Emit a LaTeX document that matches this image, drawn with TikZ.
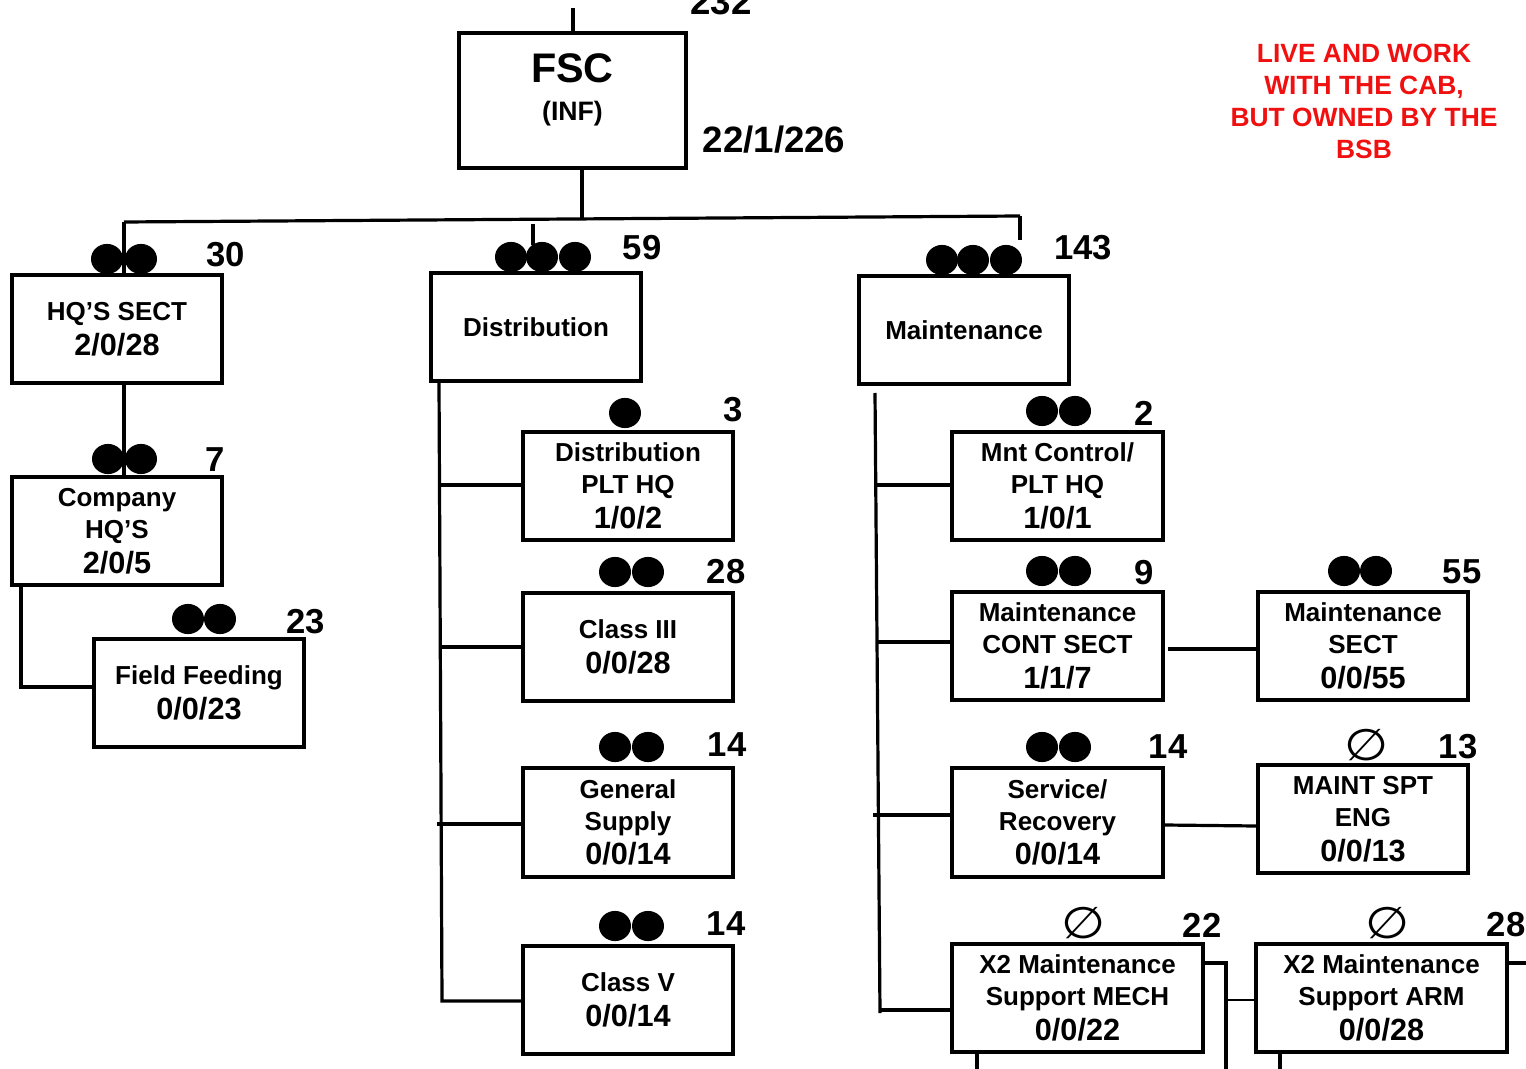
\documentclass[tikz,border=0pt]{standalone}
\usepackage{fontspec}
\setmainfont{Liberation Sans}
\newfontfamily\symfont{DejaVu Sans}
\usetikzlibrary{calc}
\definecolor{redtxt}{RGB}{240,16,16}
\newcommand\wf{\bfseries\fontsize{19.5}{24}\selectfont}
\newcommand\nf{\bfseries\fontsize{23}{26}\selectfont}
\newcommand\lf{\bfseries\fontsize{26}{30}\selectfont}
\begin{document}
\begin{tikzpicture}[x=0.75pt,y=-0.75pt,
  box/.style={draw, line width=2.6pt, rectangle, inner sep=0pt, align=center, font=\wf},
  conn/.style={line width=2.4pt},
  thin/.style={line width=1.2pt},
  lab/.style={inner sep=0pt, font=\lf},
  dot/.style={fill=black},
  nulls/.style={inner sep=0pt, xscale=1.15, font=\symfont\fontsize{33}{34}\selectfont},
]
\useasboundingbox (0,0) rectangle (1526,1069);
\newcommand\bx[6]{\node[box, minimum width=#4*0.75pt, minimum height=#5*0.75pt] (#1) at (#2,#3) {#6};}
\newcommand\dt[2]{\fill[dot] (#1,#2) ellipse [x radius=12pt, y radius=11.3pt];}

% boxes
\bx{fsc}{572.5}{100.5}{227}{135}{{\fontsize{31}{34}\selectfont FSC}\\[4pt]{\fontsize{20}{22}\selectfont (INF)}\\[-4pt]}
\bx{hq}{117}{329}{210}{108}{HQ’S SECT\\[2pt]{\nf 2/0/28}}
\bx{co}{117}{531}{210}{108}{Company\\HQ’S\\[2pt]{\nf 2/0/5}}
\bx{ff}{199}{693}{210}{108}{Field Feeding\\[2pt]{\nf 0/0/23}}
\bx{dist}{536}{327}{210}{108}{Distribution}
\bx{dhq}{628}{486}{210}{108}{Distribution\\PLT HQ\\[2pt]{\nf 1/0/2}}
\bx{cthree}{628}{647}{210}{108}{Class III\\[2pt]{\nf 0/0/28}}
\bx{gs}{628}{822.5}{210}{109}{General\\Supply\\[2pt]{\nf 0/0/14}}
\bx{cfive}{628}{1000}{210}{108}{Class V\\[2pt]{\nf 0/0/14}}
\bx{mnt}{964}{330}{210}{108}{Maintenance}
\bx{mhq}{1057.5}{486}{211}{108}{Mnt Control/\\PLT HQ\\[2pt]{\nf 1/0/1}}
\bx{mcs}{1057.5}{646}{211}{108}{Maintenance\\CONT SECT\\[2pt]{\nf 1/1/7}}
\bx{ms}{1363}{646}{210}{108}{Maintenance\\SECT\\[2pt]{\nf 0/0/55}}
\bx{sr}{1057.5}{822.5}{211}{109}{Service/\\Recovery\\[2pt]{\nf 0/0/14}}
\bx{mse}{1363}{819}{210}{108}{MAINT SPT\\ENG\\[2pt]{\nf 0/0/13}}
\bx{xm}{1077.5}{998}{251}{108}{X2 Maintenance\\Support MECH\\[2pt]{\nf 0/0/22}}
\bx{xa}{1381.5}{998}{251}{108}{X2 Maintenance\\Support ARM\\[2pt]{\nf 0/0/28}}

% strength labels
\node[lab, font=\bfseries\fontsize{27.5}{30}\selectfont] (ltop) at (721,2) {232};
\node[lab, font=\bfseries\fontsize{27.5}{30}\selectfont] (lfsc) at (774,140) {22/1/226};
\node[lab] (lhq) at (226,255) {30};
\node[lab] (lco) at (215,460) {7};
\node[lab] (lff) at (306,622) {23};
\node[lab] (ldist) at (642,248) {59};
\node[lab] (lmnt) at (1083,248) {143};
\node[lab] (ldhq) at (733,410) {3};
\node[lab] (lcthree) at (726,572) {28};
\node[lab] (lgs) at (727,745) {14};
\node[lab] (lcfive) at (726,924) {14};
\node[lab] (lmhq) at (1144,413) {2};
\node[lab] (lmcs) at (1144,573) {9};
\node[lab] (lms) at (1462,572) {55};
\node[lab] (lsr) at (1168,747) {14};
\node[lab] (lmse) at (1458,747) {13};
\node[lab] (lxm) at (1202,925) {22};
\node[lab] (lxa) at (1506,925) {28};

% red note
\node[inner sep=0pt, align=center, text=redtxt, font=\bfseries\fontsize{19.8}{24}\selectfont] (note) at (1364,101)
  {LIVE AND WORK\\WITH THE CAB,\\BUT OWNED BY THE\\BSB};

% rank dots
\dt{107}{259}\dt{141}{259}
\dt{108}{459}\dt{141}{459}
\dt{188}{619}\dt{220}{619}
\dt{511}{257}\dt{542}{257}\dt{575}{257}
\dt{942}{260}\dt{973}{260}\dt{1006}{260}
\dt{625}{413}
\dt{615}{572}\dt{648}{572}
\dt{615}{747}\dt{648}{747}
\dt{615}{926}\dt{648}{926}
\dt{1042}{411}\dt{1075}{411}
\dt{1042}{571}\dt{1075}{571}
\dt{1344}{571}\dt{1376}{571}
\dt{1042}{747}\dt{1075}{747}
\node[nulls] (nmse) at (1367,745) {∅};
\node[nulls] (nxm) at (1084,923) {∅};
\node[nulls] (nxa) at (1388,923) {∅};

% connectors
\coordinate (topin) at (573,8);
\coordinate (busL) at (124,222);
\coordinate (busR) at (1020,216);
\coordinate (busF) at (582,218);
\coordinate (distTop) at (533,224);
\coordinate (distEnd) at (533,245);
\coordinate (mntEnd) at (1020,240);
\draw[conn] (topin) -- (fsc.north -| topin);
\draw[conn] (fsc.south -| busF) -- (busF);
\draw[conn] (busL) -- (busR);
\draw[conn] (busL) -- (hq.north -| busL);
\draw[conn] (distTop) -- (distEnd);
\draw[conn] (busR) -- (mntEnd);
\draw[conn] (hq.south -| busL) -- (co.north -| busL);
% company to field feeding
\coordinate (coL) at (21,687);
\draw[conn] (co.south -| coL) -- (coL) -- (ff.west |- coL);
% distribution trunk
\coordinate (dT) at (439,381);
\coordinate (dB) at (442,1001);
\draw[conn] (dist.south -| dT) -- (dB) -- (cfive.west |- dB);
\draw[conn] (439,485) -- (dhq.west |- 0,485);
\draw[conn] (440,647) -- (cthree.west |- 0,647);
\draw[conn] (437,824) -- (gs.west |- 0,824);
% maintenance trunk
\coordinate (mT) at (875,393);
\coordinate (mB) at (880,1013);
\draw[conn] (mT) -- (mB);
\draw[conn] (876,485) -- (mhq.west |- 0,485);
\draw[conn] (877,642) -- (mcs.west |- 0,642);
\draw[conn] (873,815) -- (sr.west |- 0,815);
\draw[conn] (880,1010) -- (xm.west |- 0,1010);
\draw[conn] (1168,649) -- (ms.west |- 0,649);
\draw[conn] (sr.east |- 0,825) -- (mse.west |- 0,826);
% bottom right
\coordinate (xmR) at (1226,963);
\draw[conn] (xm.east |- xmR) -- (xmR) -- (1226,1069);
\draw[thin] (1226,1000) -- (xa.west |- 0,1000);
\draw[conn] (xm.south -| 977,0) -- (977,1069);
\draw[conn] (xa.south -| 1280,0) -- (1280,1069);
\draw[conn] (xa.east |- 0,963) -- (1526,963);
\end{tikzpicture}
\end{document}
